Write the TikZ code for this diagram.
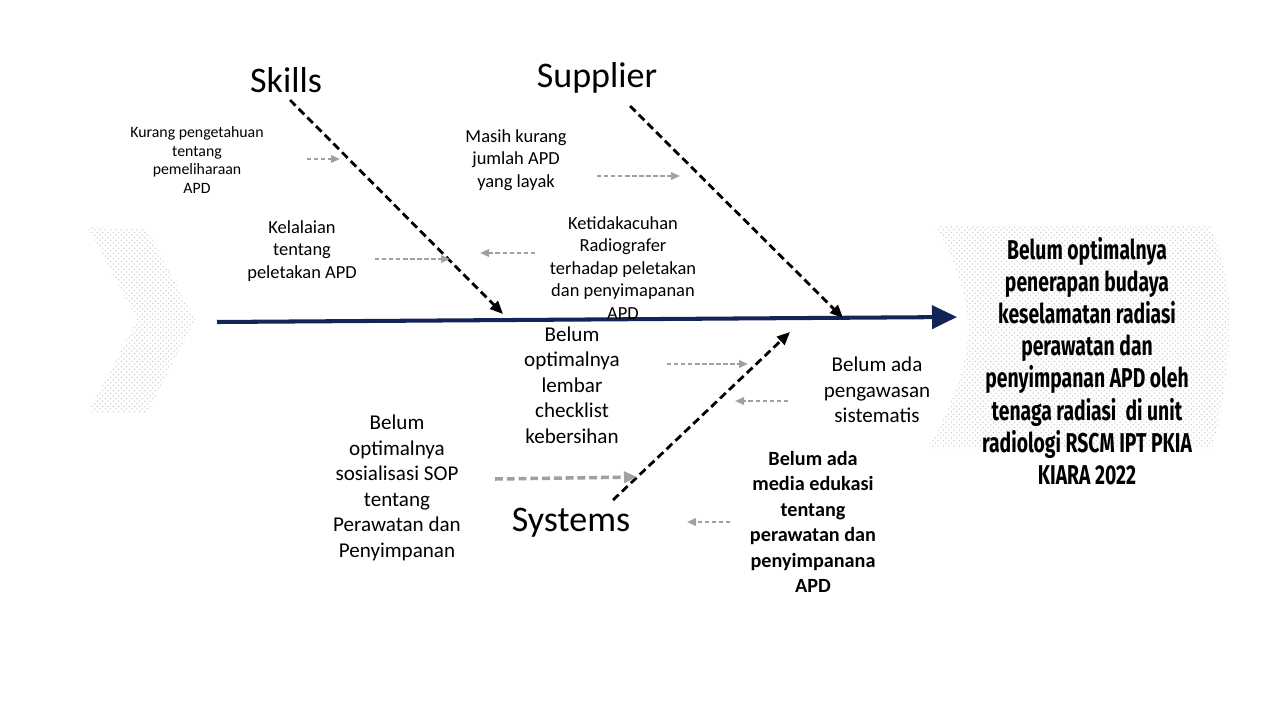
\documentclass[tikz,border=0pt]{standalone}
\usepackage{fontspec}
\setmainfont{Carlito}
\newfontfamily\headfont[FakeStretch=0.71]{Fira Sans}
\usetikzlibrary{arrows.meta, patterns}
\definecolor{spinenavy}{RGB}{20,36,86}
\definecolor{causegray}{RGB}{160,160,160}

\begin{document}
\begin{tikzpicture}[
  x=0.02cm, y=-0.02cm,
  cat/.style={font=\fontsize{20.5}{24}\selectfont},
  cause/.style={align=center, font=\fontsize{12}{14.5}\selectfont},
  causemid/.style={align=center, font=\fontsize{10.5}{12.8}\selectfont},
  causesmall/.style={align=center, font=\fontsize{9}{10.8}\selectfont},
  causebold/.style={align=center, font=\fontsize{11.5}{14.5}\selectfont\bfseries},
  effect/.style={align=center, font=\headfont\fontsize{15.5}{18.3}\selectfont\bfseries},
  dotfill/.style={pattern=crosshatch dots, pattern color=gray!32, draw=none},
  spine/.style={-{Triangle[length=0.5cm, width=0.46cm]}, line width=2.3pt, spinenavy},
  bone/.style={-{Triangle[length=2.6mm, width=2.2mm]}, line width=1.6pt,
               dash pattern=on 4.5pt off 2.5pt},
  feed/.style={-{Triangle[length=1.8mm, width=1.5mm]}, line width=1.1pt, causegray,
               dash pattern=on 2.5pt off 1.5pt},
  feedthick/.style={-{Triangle[length=2.6mm, width=2.2mm]}, line width=2pt, causegray,
                    dash pattern=on 4.5pt off 2.2pt}
]
\useasboundingbox (0,0) rectangle (1280,720);

% tail and head
\fill[dotfill] (88,227) -- (147,229) -- (195,320) -- (147,413) -- (88,413) -- (137,320) -- cycle;
\fill[dotfill] (935,225) -- (1210,225) .. controls (1225,260) and (1232,300) .. (1230,330)
  .. controls (1228,370) and (1222,410) .. (1212,448) -- (928,448)
  .. controls (950,410) and (968,365) .. (968,330) .. controls (968,290) and (950,250) .. (935,225) -- cycle;

% spine
\coordinate (tail) at (217,322);
\coordinate (head) at (957,317);
\draw[spine] (tail) -- (head);

\node[effect] (problem) at (1087,361) {Belum optimalnya\\penerapan budaya\\keselamatan radiasi\\perawatan dan\\penyimpanan APD oleh\\tenaga radiasi~ di unit\\radiologi RSCM IPT PKIA\\KIARA 2022};

% categories
\node[cat] (skills) at (286,80) {Skills};
\node[cat] (supplier) at (597,78) {Supplier};
\node[cat] (systems) at (571,523) {Systems};

\coordinate (skillsA) at (290,100);
\coordinate (skillsB) at (503,314);
\coordinate (supplierA) at (630,106);
\coordinate (supplierB) at (843,318);
\coordinate (systemsA) at (613,500);
\coordinate (systemsB) at (790,332);
\draw[bone] (skillsA) -- (skillsB);
\draw[bone] (supplierA) -- (supplierB);
\draw[bone] (systemsA) -- (systemsB);

% causes
\node[causesmall] (kurang) at (197,160) {Kurang pengetahuan\\tentang\\pemeliharaan\\APD};
\node[causemid] (lalai) at (302,251) {Kelalaian\\tentang\\peletakan APD};
\node[causemid] (jumlah) at (516,160) {Masih kurang\\jumlah APD\\yang layak};
\node[causemid] (acuh) at (623,268) {Ketidakacuhan\\Radiografer\\terhadap peletakan\\dan penyimapanan\\APD};
\node[cause] (lembar) at (572,385) {Belum\\optimalnya\\lembar\\checklist\\kebersihan};
\node[cause] (sosial) at (397,488) {Belum\\optimalnya\\sosialisasi SOP\\tentang\\Perawatan dan\\Penyimpanan};
\node[cause] (awas) at (877,390) {Belum ada\\pengawasan\\sistematis};
\node[causebold] (media) at (813,522) {Belum ada\\media edukasi\\tentang\\perawatan dan\\penyimpanana\\APD};

\coordinate (kurangA) at (307,159);   \coordinate (kurangB) at (340,159);
\coordinate (lalaiA) at (375,259);    \coordinate (lalaiB) at (450,259);
\coordinate (acuhA) at (535,253);     \coordinate (acuhB) at (480,253);
\coordinate (jumlahA) at (597,176);   \coordinate (jumlahB) at (680,176);
\coordinate (lembarA) at (667,364);   \coordinate (lembarB) at (748,364);
\coordinate (awasA) at (788,401);     \coordinate (awasB) at (735,401);
\coordinate (sosialA) at (495,479);   \coordinate (sosialB) at (637,477);
\coordinate (mediaA) at (730,522);    \coordinate (mediaB) at (687,522);

\draw[feed] (kurangA) -- (kurangB);
\draw[feed] (lalaiA) -- (lalaiB);
\draw[feed] (acuhA) -- (acuhB);
\draw[feed] (jumlahA) -- (jumlahB);
\draw[feed] (lembarA) -- (lembarB);
\draw[feed] (awasA) -- (awasB);
\draw[feedthick] (sosialA) -- (sosialB);
\draw[feed] (mediaA) -- (mediaB);

\end{tikzpicture}
\end{document}
